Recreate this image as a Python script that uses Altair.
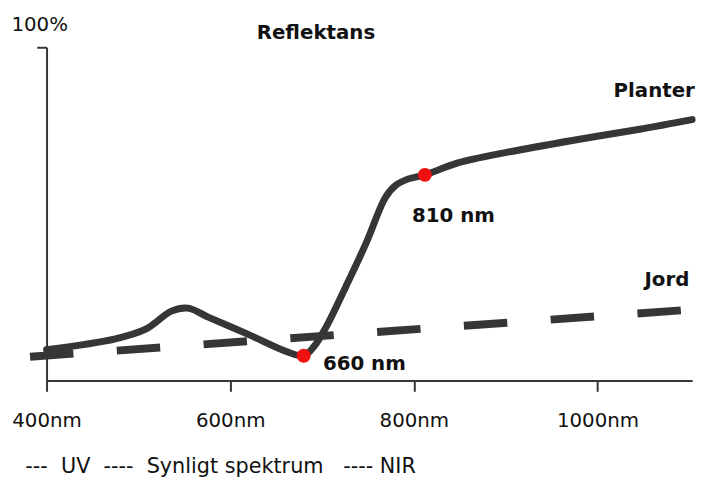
import altair as alt
import pandas as pd

# --- data ---
planter_nm = [400, 475, 508, 536, 554, 576, 619, 662, 680, 691, 705, 726, 748,
              769, 780, 794, 812, 848, 902, 974, 1046, 1103]
planter_pct = [9.2, 12.5, 15.4, 20.8, 21.7, 19.0, 13.9, 8.6, 7.4, 10.1, 16.3, 28.2,
               41.2, 54.9, 58.5, 60.5, 61.7, 65.3, 68.5, 72.1, 75.4, 78.3]

jord_nm = [382, 1094]
jord_pct = [7.1, 21.1]

marker_nm = [680, 812]
marker_pct = [7.4, 61.7]

tick_values = [400, 600, 800, 1000]

label_text = ["Planter", "Jord", "810 nm", "660 nm"]
label_nm = [1106, 1100, 798, 701]
label_pct = [85.2, 28.2, 47.5, 3.0]
label_align = ["right", "right", "left", "left"]

NB = "\u00a0"
legend_line = ("---" + NB * 2 + "UV" + NB * 2 + "----" + NB * 2 + "Synligt" + NB +
               "spektrum" + NB * 3 + "----" + NB + "NIR")

FONT = "DejaVu Sans"
LINE = "#363636"

planter = pd.DataFrame({"nm": planter_nm, "pct": planter_pct})
jord = pd.DataFrame({"nm": jord_nm, "pct": jord_pct})
markers = pd.DataFrame({"nm": marker_nm, "pct": marker_pct})
labels = pd.DataFrame({"text": label_text, "nm": label_nm, "pct": label_pct,
                       "align": label_align})

xscale = alt.Scale(domain=[400, 1103], nice=False, zero=False)
yscale = alt.Scale(domain=[0, 100], nice=False)

x_axis = alt.Axis(
    values=tick_values, labelExpr="datum.value + 'nm'", grid=False,
    domainColor=LINE, domainWidth=2, tickColor=LINE, tickWidth=2, tickSize=11,
    labelFont=FONT, labelFontSize=20, labelColor="#111111", labelFlush=False,
    labelBaseline="alphabetic", labelPadding=36, labelOverlap=False,
    title=legend_line,
    titleFont=FONT, titleFontSize=21, titleFontWeight="normal", titleColor="#111111",
    titleX=-22, titleY=93, titleAlign="left", titleBaseline="alphabetic",
)
y_axis = alt.Axis(
    values=[100], labelExpr="'100%'", grid=False,
    domainColor=LINE, domainWidth=2, tickColor=LINE, tickWidth=2, tickSize=10,
    labelFont=FONT, labelFontSize=20, labelColor="#111111",
    labelAlign="left", labelBaseline="alphabetic", labelPadding=26, labelOffset=-17,
    title="Reflektans", titleAngle=0, titleFont=FONT, titleFontSize=20,
    titleFontWeight="bold", titleColor="#111111",
    titleX=272, titleY=-9, titleAlign="center", titleBaseline="alphabetic",
)

base_x = alt.X("nm:Q", scale=xscale, axis=x_axis)
base_y = alt.Y("pct:Q", scale=yscale, axis=y_axis)

planter_line = alt.Chart(planter).mark_line(
    color=LINE, strokeWidth=7, interpolate="catmull-rom", strokeCap="round",
    strokeJoin="round"
).encode(x=base_x, y=base_y)

jord_line = alt.Chart(jord).mark_line(
    color=LINE, strokeWidth=8, strokeDash=[44, 44], strokeCap="butt"
).encode(x=alt.X("nm:Q", scale=xscale), y=alt.Y("pct:Q", scale=yscale))

points = alt.Chart(markers).mark_circle(color="#f01010", size=200, opacity=1).encode(
    x=alt.X("nm:Q", scale=xscale), y=alt.Y("pct:Q", scale=yscale)
)

text_right = alt.Chart(labels).transform_filter("datum.align == 'right'").mark_text(
    font=FONT, fontSize=20, fontWeight="bold", color="#111111",
    align="right", baseline="alphabetic"
).encode(x=alt.X("nm:Q", scale=xscale), y=alt.Y("pct:Q", scale=yscale), text="text:N")

text_left = alt.Chart(labels).transform_filter("datum.align == 'left'").mark_text(
    font=FONT, fontSize=20, fontWeight="bold", color="#111111",
    align="left", baseline="alphabetic"
).encode(x=alt.X("nm:Q", scale=xscale), y=alt.Y("pct:Q", scale=yscale), text="text:N")

chart = alt.layer(planter_line, jord_line, points, text_right, text_left).properties(
    width=653, height=337,
    autosize=alt.AutoSizeParams(type="none"),
    padding={"left": 39, "top": 37, "right": 7, "bottom": 98},
    background="white",
).configure_view(stroke="transparent")

chart.save("out.html", embed_options={"renderer": "svg", "actions": False})
